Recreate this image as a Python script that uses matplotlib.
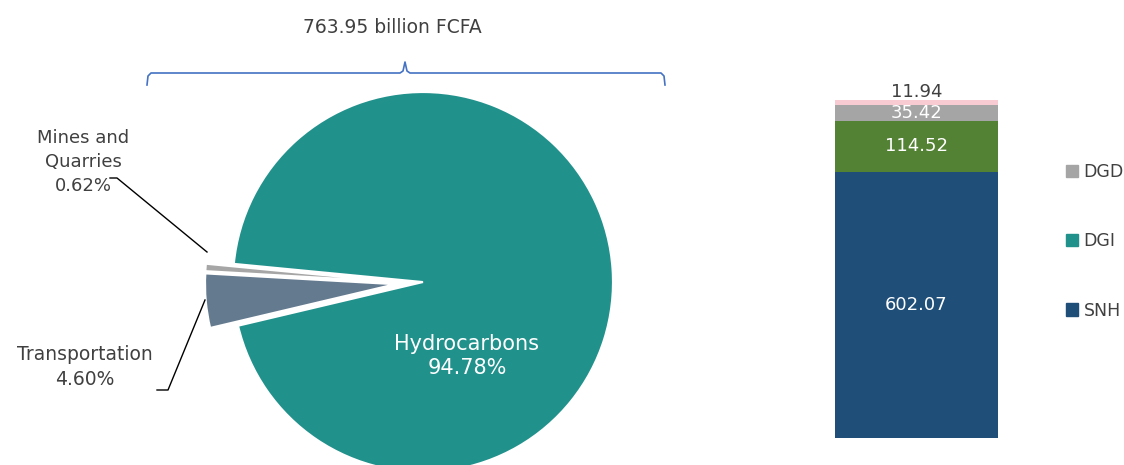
import numpy as np
import matplotlib.pyplot as plt
from matplotlib.patches import Patch

# pie data (share of 763.95 billion FCFA)
sectors = ["Hydrocarbons", "Mines and\nQuarries", "Transportation"]
shares = [94.78, 0.62, 4.60]
pie_colors = ["#21918C", "#A6A6A6", "#647A8F"]

# stacked bar data (billion FCFA), bottom to top
bar_names = ["SNH", "DGI", "DGD", "Other"]
bar_values = [602.07, 114.52, 35.42, 11.94]
bar_colors = ["#1F4E79", "#548235", "#A5A5A5", "#F8CBD2"]
total_label = "763.95 billion FCFA"

W, H = 1124, 465
fig = plt.figure(figsize=(W / 100, H / 100), dpi=100)
plt.rcParams['font.family'] = ['DejaVu Sans']

def fy(y):
    # image pixel row -> axes y
    return H - y

# overlay axes in pixel units
ax = fig.add_axes([0, 0, 1, 1])
wedges, _ = ax.pie(shares, colors=pie_colors, startangle=193.3,
                   counterclock=True, center=(409, fy(283)), radius=190,
                   explode=[14, 14, 14],
                   wedgeprops=dict(edgecolor="white", linewidth=1.5))
ax.set_xlim(0, W)
ax.set_ylim(0, H)
ax.set_aspect("equal")
ax.axis("off")

txt_col = "#404040"
ax.text(467, fy(356), "Hydrocarbons\n94.78%", color="white", fontsize=15,
        ha="center", va="center", linespacing=1.3)
ax.text(83, fy(162), "Mines and\nQuarries\n0.62%", color=txt_col, fontsize=13,
        ha="center", va="center", linespacing=1.4)
ax.text(85, fy(367), "Transportation\n4.60%", color=txt_col, fontsize=13.5,
        ha="center", va="center", linespacing=1.35)

# leader lines
ax.plot([110, 117, 207], [fy(178), fy(178), fy(252)], color="black", lw=1)
ax.plot([157, 168, 205], [fy(390), fy(390), fy(300)], color="black", lw=1)

# brace over the pie
bx = [147, 148, 151, 400, 403, 405, 407, 410, 661, 664, 665]
by = [85, 76, 73, 73, 71, 62, 71, 73, 73, 76, 85]
ax.plot(bx, [fy(v) for v in by], color="#4472C4", lw=1.2)
ax.text(392, fy(28), total_label, color=txt_col, fontsize=13.5,
        ha="center", va="center")

# stacked bar
bax = fig.add_axes([835 / W, (H - 438) / H, 163 / W, 338 / H])
bottom = 0
for name, val, col in zip(bar_names, bar_values, bar_colors):
    bax.bar(0, val, bottom=bottom, width=1, color=col)
    bottom += val
bax.set_xlim(-0.5, 0.5)
bax.set_ylim(0, sum(bar_values))
bax.axis("off")

cum = np.cumsum([0] + bar_values)
for i, val in enumerate(bar_values[:3]):
    bax.text(0, (cum[i] + cum[i + 1]) / 2, f"{val:.2f}", color="white",
             fontsize=13, ha="center", va="center")
bax.text(0, cum[-1] + 18, f"{bar_values[3]:.2f}", color=txt_col,
         fontsize=13, ha="center", va="center", clip_on=False)

handles = [Patch(color="#A5A5A5", label="DGD"),
           Patch(color="#21918C", label="DGI"),
           Patch(color="#1F4E79", label="SNH")]
fig.legend(handles=handles, loc="upper left",
           bbox_to_anchor=(1061 / W, 1 - 158 / H), frameon=False,
           fontsize=12.5, handlelength=0.7, handleheight=0.7,
           handletextpad=0.3, labelspacing=2.95, labelcolor=txt_col,
           borderaxespad=0, borderpad=0.3)

fig.savefig("out.png", dpi=100)
